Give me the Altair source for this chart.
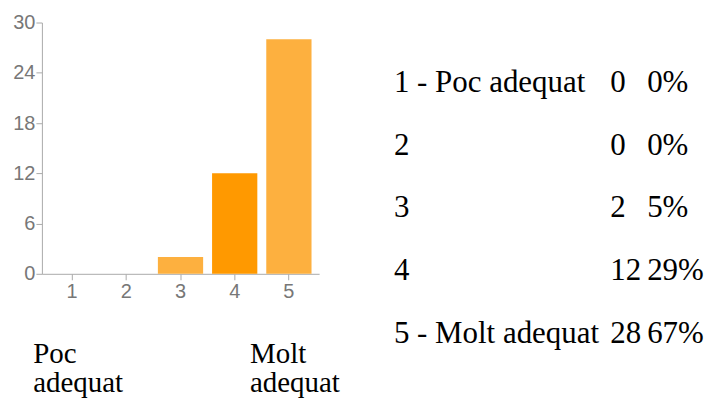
import altair as alt
import pandas as pd

# ---- data ----
categories = ["1", "2", "3", "4", "5"]
counts = [0, 0, 2, 12, 28]
row_labels = ["1 - Poc adequat", "2", "3", "4", "5 - Molt adequat"]
percents = ["0%", "0%", "5%", "29%", "67%"]
bar_colors = ["#FDB03F", "#FDB03F", "#FDB03F", "#FF9900", "#FDB03F"]
y_ticks = [0, 6, 12, 18, 24, 30]
end_labels_cat = ["1", "5"]
end_labels_text = ["Poc\nadequat", "Molt\nadequat"]

bars_df = pd.DataFrame({"cat": categories, "count": counts, "color": bar_colors})
table_df = pd.DataFrame({
    "row": row_labels,
    "count": [str(c) for c in counts],
    "pct": percents,
})
end_df = pd.DataFrame({"cat": end_labels_cat, "text": end_labels_text})

SERIF = "Liberation Serif"
SANS = "Liberation Sans"
FS = 31

x_scale = alt.Scale(domain=categories, paddingInner=0.165, paddingOuter=0.14)

bars = alt.Chart(bars_df).mark_bar().encode(
    x=alt.X("cat:N", scale=x_scale, sort=categories,
            axis=alt.Axis(title=None, labelAngle=0, labelFont=SANS, labelFontSize=20,
                          labelColor="#777777", domainColor="#aaaaaa", tickColor="#aaaaaa",
                          tickSize=6, labelPadding=2, grid=False)),
    y=alt.Y("count:Q", scale=alt.Scale(domain=[0, 30], nice=False),
            axis=alt.Axis(title=None, values=y_ticks, labelFont=SANS, labelFontSize=20,
                          labelColor="#777777", domainColor="#aaaaaa", tickColor="#aaaaaa",
                          tickSize=6, labelPadding=1, grid=False)),
    color=alt.Color("color:N", scale=None),
)

row_scale = alt.Scale(domain=row_labels, range=[70, 321], padding=0)

def table_col(field, xpos):
    return alt.Chart(table_df).mark_text(
        font=SERIF, fontSize=FS, align="left", baseline="alphabetic", color="#000000"
    ).encode(
        x=alt.value(xpos),
        y=alt.Y("row:N", scale=row_scale, sort=row_labels, axis=None),
        text=f"{field}:N",
    )

t_label = table_col("row", 353)
t_count = table_col("count", 570)
t_pct = table_col("pct", 607)

end_text = alt.Chart(end_df).mark_text(
    font=SERIF, fontSize=29, align="left", baseline="alphabetic", color="#000000",
    lineBreak="\n", lineHeight=30, dx=-39,
).encode(
    x=alt.X("cat:N", scale=x_scale, sort=categories),
    y=alt.value(341),
    text="text:N",
)

chart = alt.layer(bars, end_text, t_label, t_count, t_pct).resolve_scale(
    y="independent"
).properties(
    width=278,
    height=252,
    padding={"left": 34, "top": 14, "right": 388, "bottom": 125},
    autosize=alt.AutoSizeParams(type="none"),
).configure(background="white").configure_view(stroke=None)

chart.save("out.html", embed_options={"renderer": "svg", "actions": False})
